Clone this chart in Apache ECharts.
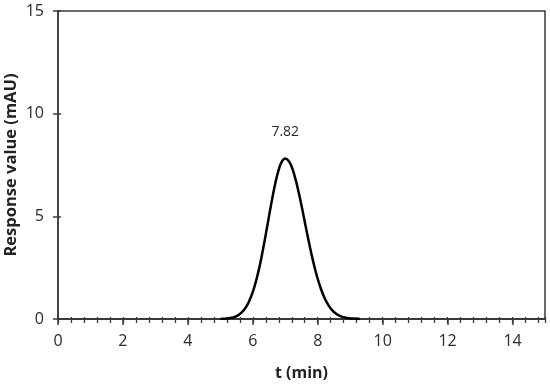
<!DOCTYPE html>
<html>
<head>
<meta charset="utf-8">
<script src="https://cdn.jsdelivr.net/npm/echarts@6/dist/echarts.min.js"></script>
<style>html,body{margin:0;padding:0;background:#fff;}#c{width:550px;height:386px;}</style>
</head>
<body>
<div id="c"></div>
<script>
var timeMin = [5.0,5.1,5.2,5.3,5.4,5.5,5.6,5.7,5.8,5.9,6.0,6.1,6.2,6.3,6.4,6.5,6.6,6.7,6.8,6.9,7.0,7.1,7.2,7.3,7.4,7.5,7.6,7.7,7.8,7.9,8.0,8.1,8.2,8.3,8.4,8.5,8.6,8.7,8.8,8.9,9.0,9.1,9.2,9.3];
var response = [0,0.01,0.02,0.05,0.08,0.14,0.24,0.39,0.60,0.91,1.32,1.85,2.50,3.27,4.12,5.01,5.88,6.66,7.28,7.68,7.82,7.71,7.40,6.90,6.26,5.53,4.74,3.96,3.21,2.54,1.95,1.46,1.06,0.75,0.51,0.34,0.22,0.14,0.09,0.05,0.03,0.02,0.01,0];
var peakLabel = '7.82';
var xTicks = [0,2,4,6,8,10,12,14];
var yTicks = [0,5,10,15];

var font = '"Open Sans", sans-serif';
var axisColor = '#3a3a3a';
var peakIdx = response.indexOf(Math.max.apply(null, response));
var data = timeMin.map(function(t,i){ return [t, response[i]]; });

var chart = echarts.init(document.getElementById('c'));
var baseX = {type:'value', min:0, max:15, position:'bottom', splitLine:{show:false},
  axisLine:{show:true, lineStyle:{color:axisColor, width:1.5}}};
chart.setOption({
  animation:false,
  grid:{left:58, right:5, top:11, bottom:67, outerBoundsMode:'none', containLabel:false,
    show:true, borderColor:axisColor, borderWidth:1.5, backgroundColor:'transparent'},
  xAxis:[
    Object.assign({}, baseX, {interval:2, name:'t (min)', nameLocation:'middle', nameGap:46, nameMoveOverlap:false,
      nameTextStyle:{fontSize:16, fontWeight:'bold', color:'#222', fontFamily:font},
      axisTick:{show:true, length:6, lineStyle:{color:axisColor, width:1.5}},
      axisLabel:{show:true, margin:14, fontSize:16, color:'#2a2a2a', fontFamily:font, showMaxLabel:false,
        formatter:function(v){return xTicks.indexOf(v)>=0 ? String(v) : '';}}}),
    Object.assign({}, baseX, {interval:0.4, axisLabel:{show:false},
      axisTick:{show:true, length:4, lineStyle:{color:axisColor, width:1.3}}}),
    Object.assign({}, baseX, {interval:0.4, axisLabel:{show:false},
      axisTick:{show:true, inside:true, length:2, lineStyle:{color:axisColor, width:1.3}}})
  ],
  yAxis:[
    {type:'value', min:0, max:15, interval:5, splitLine:{show:false},
      name:'Response value (mAU)', nameLocation:'middle', nameGap:38, nameMoveOverlap:false,
      nameTextStyle:{fontSize:16.5, fontWeight:'bold', color:'#222', fontFamily:font},
      axisLine:{show:true, lineStyle:{color:axisColor, width:1.5}},
      axisTick:{show:true, length:5, lineStyle:{color:axisColor, width:1.5}},
      axisLabel:{margin:14, fontSize:16, color:'#2a2a2a', fontFamily:font,
        formatter:function(v){return yTicks.indexOf(v)>=0 ? String(v) : '';}}},
    {type:'value', min:0, max:15, interval:5, position:'left', splitLine:{show:false},
      axisLine:{show:false}, axisLabel:{show:false},
      axisTick:{show:true, inside:true, length:3, lineStyle:{color:axisColor, width:1.5}}}
  ],
  series:[{
    type:'line', xAxisIndex:0, yAxisIndex:0, data:data, showSymbol:false, symbol:'none', smooth:true,
    lineStyle:{color:'#000', width:2.5}, z:5,
    markPoint:{
      symbol:'circle', symbolSize:0,
      data:[{coord:[timeMin[peakIdx], response[peakIdx]]}],
      label:{show:true, position:'top', distance:19, formatter:peakLabel, color:'#2a2a2a', fontSize:14, fontFamily:font}
    }
  }]
});
</script>
</body>
</html>
